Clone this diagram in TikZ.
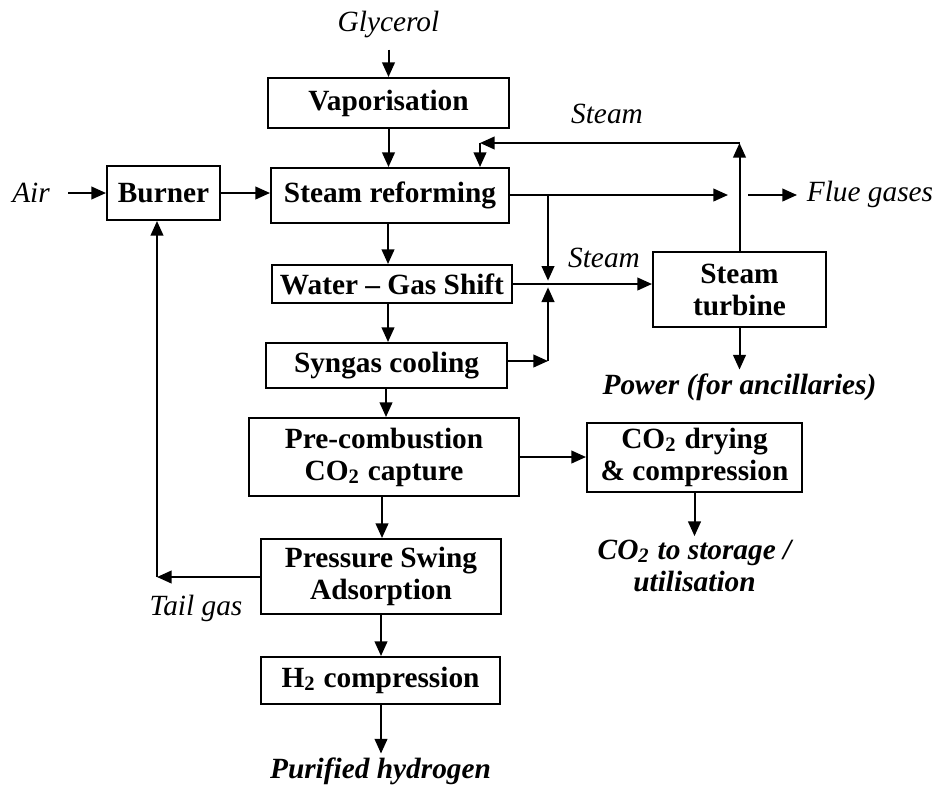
\documentclass[tikz,border=0pt]{standalone}
\usepackage{fontspec}
\setmainfont{Liberation Serif}
\usetikzlibrary{arrows.meta}
\begin{document}
\begin{tikzpicture}[x=0.3pt,y=-0.3pt,
  font=\fontsize{8.8}{9.6}\selectfont,
  box/.style={draw,line width=0.6pt,inner sep=0pt,align=center,font=\fontsize{8.8}{9.6}\selectfont\bfseries},
  lbl/.style={inner sep=1pt,align=center,font=\fontsize{8.8}{9.6}\selectfont\itshape},
  blbl/.style={inner sep=1pt,align=center,font=\fontsize{8.8}{9.6}\selectfont\bfseries\itshape},
  flow/.style={line width=0.6pt,-{Triangle[length=4.4pt,width=3.8pt]}}]
\useasboundingbox (0,0) rectangle (938,787);
% process units
\node[box,minimum width=72.3pt,minimum height=15pt] (vap) at (388.5,103) {Vaporisation};
\node[box,minimum width=33.9pt,minimum height=16.2pt] (burner) at (163.5,193) {Burner};
\node[box,minimum width=71.4pt,minimum height=16.5pt] (sr) at (390,195.5) {Steam reforming};
\node[box,minimum width=72pt,minimum height=11.4pt] (wgs) at (392,284) {Water -- Gas Shift};
\node[box,minimum width=72.3pt,minimum height=13.5pt] (syn) at (386.5,365.5) {Syngas cooling};
\node[box,minimum width=81pt,minimum height=23.4pt] (pre) at (384,457) {Pre-combustion\\CO\textsubscript{2} capture};
\node[box,minimum width=64.5pt,minimum height=20.7pt] (dry) at (694.5,457.5) {CO\textsubscript{2} drying\\\& compression};
\node[box,minimum width=72pt,minimum height=22.5pt] (psa) at (381,576.5) {Pressure Swing\\Adsorption};
\node[box,minimum width=71.7pt,minimum height=14.1pt] (h2) at (380.5,680.5) {H\textsubscript{2} compression};
\node[box,minimum width=51.9pt,minimum height=22.5pt] (turb) at (739.5,289.5) {Steam\\turbine};
% streams in and out
\node[lbl] (gly) at (388.5,24) {Glycerol};
\node[lbl] (air) at (31,193) {Air};
\node[lbl] (flue) at (870,194) {Flue gases};
\node[lbl] (steamA) at (607,114) {Steam};
\node[lbl] (steamB) at (604,258) {Steam};
\node[lbl] (tail) at (196,608) {Tail gas};
\node[blbl] (power) at (739.5,387) {Power (for ancillaries)};
\node[blbl] (store) at (694.5,566) {CO\textsubscript{2} to storage /\\utilisation};
\node[blbl] (hyd) at (380.5,771) {Purified hydrogen};
% junctions
\coordinate (astart) at (68,193);
\coordinate (fgap) at (728,195);
\coordinate (fstart) at (748,195);
\coordinate (fend) at (797,195);
\coordinate (stop) at (739.5,143);
\coordinate (sbend) at (480,143);
\coordinate (jx) at (548,284);
\coordinate (sjoin) at (548,361);
\coordinate (tg) at (157,577);
% main train
\draw[flow,shorten <=2.5pt] (gly.south) -- (vap.north);
\draw[flow] (vap.south) -- (vap.south |- sr.north);
\draw[flow] (astart) -- (burner.west);
\draw[flow] (burner.east) -- (burner.east -| sr.west);
\draw[flow] (sr.south -| 388,0) -- (wgs.north -| 388,0);
\draw[flow] (wgs.south -| 388,0) -- (syn.north -| 388,0);
\draw[flow] (syn.south -| 386,0) -- (pre.north -| 386,0);
\draw[flow] (pre.south -| 382,0) -- (psa.north -| 382,0);
\draw[flow] (psa.south -| 381,0) -- (h2.north -| 381,0);
\draw[flow] (h2.south -| 381,0) -- (hyd.north -| 381,0);
\draw[flow] (pre.east) -- (pre.east -| dry.west);
\draw[flow] (dry.south) -- (store.north);
% steam and flue gas
\draw[flow] (sr.east |- fgap) -- (fgap);
\draw[flow] (fstart) -- (fend);
\draw[flow] (turb.north) -- (stop);
\draw[flow] (stop) -- (sbend);
\draw[flow] (sbend) -- (sbend |- sr.north);
\draw[flow,shorten >=1pt] (jx |- fgap) -- (jx);
\draw[flow] (wgs.east) -- (wgs.east -| turb.west);
\draw[flow] (syn.east |- sjoin) -- (sjoin);
\draw[flow,shorten >=1pt] (sjoin) -- (jx);
\draw[flow] (turb.south) -- (power.north);
% tail gas back to burner
\draw[flow] (psa.west |- tg) -- (tg);
\draw[flow] (tg) -- (tg |- burner.south);
\end{tikzpicture}
\end{document}
